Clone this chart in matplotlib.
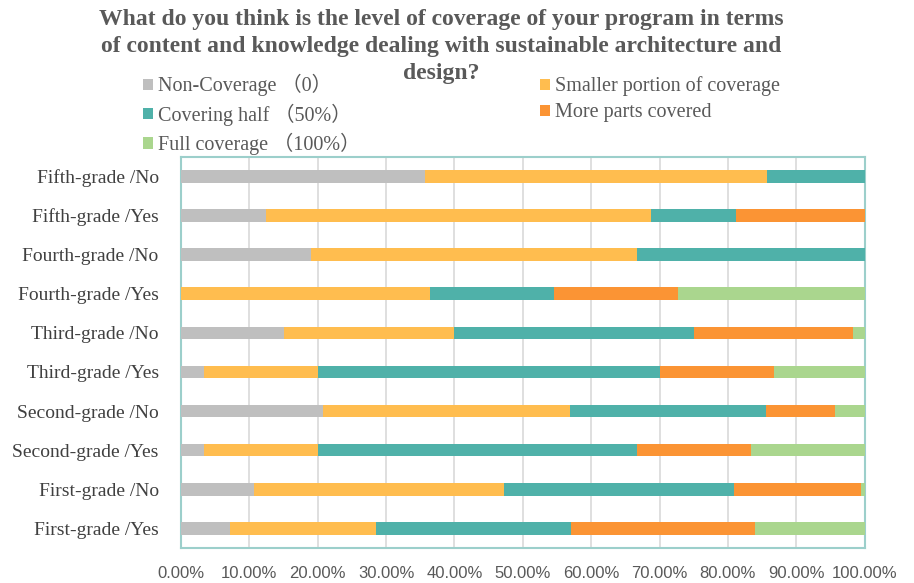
import matplotlib.pyplot as plt
import numpy as np
from matplotlib.ticker import FuncFormatter

# bottom to top
groups = ['First-grade /Yes', 'First-grade /No', 'Second-grade /Yes', 'Second-grade /No',
          'Third-grade /Yes', 'Third-grade /No', 'Fourth-grade /Yes', 'Fourth-grade /No',
          'Fifth-grade /Yes', 'Fifth-grade /No']

non_coverage = [7.1, 10.7, 3.33, 20.8, 3.33, 15.0, 0.0, 19.05, 12.5, 35.7]
smaller_portion = [21.4, 36.5, 16.67, 36.1, 16.67, 25.0, 36.36, 47.62, 56.25, 50.0]
covering_half = [28.6, 33.7, 46.67, 28.6, 50.0, 35.0, 18.18, 33.33, 12.5, 14.3]
more_parts = [26.8, 18.5, 16.67, 10.1, 16.67, 23.3, 18.18, 0.0, 18.75, 0.0]
full_coverage = [16.1, 0.6, 16.67, 4.4, 13.33, 1.7, 27.27, 0.0, 0.0, 0.0]

series = [
    ('Non-Coverage （0）', non_coverage, '#bfbfbf'),
    ('Smaller portion of coverage', smaller_portion, '#ffbd4f'),
    ('Covering half （50%）', covering_half, '#4fb1a9'),
    ('More parts covered', more_parts, '#fb9434'),
    ('Full coverage （100%）', full_coverage, '#aad68e'),
]

title_lines = ['What do you think is the level of coverage of your program in terms',
               'of content and knowledge dealing with sustainable architecture and',
               'design?']

serif = ['Liberation Serif', 'Noto Sans CJK SC', 'DejaVu Serif']

fig = plt.figure(figsize=(9.14, 5.83), dpi=100)
ax = fig.add_axes([0.198, 0.06, 0.748, 0.671])

y = np.arange(len(groups))
left = np.zeros(len(groups))
handles = {}
for name, vals, color in series:
    vals = np.array(vals) / 100.0
    b = ax.barh(y, vals, left=left, height=0.32, color=color, label=name, zorder=3)
    handles[name] = b
    left += vals

ax.set_xlim(0, 1)
ax.set_ylim(-0.5, len(groups) - 0.5)
ax.set_xticks(np.arange(0, 1.01, 0.1))
ax.xaxis.set_major_formatter(FuncFormatter(lambda v, p: f'{v * 100:.2f}%'))
ax.set_yticks(y)
ax.set_yticklabels(groups, fontfamily=serif, fontsize=14, color='#404040')
for lbl in ax.get_xticklabels():
    lbl.set_fontfamily('Liberation Sans')
    lbl.set_fontsize(12)
    lbl.set_color('#595959')
ax.tick_params(axis='y', length=0, pad=16)
ax.tick_params(axis='x', length=0, pad=13)
ax.grid(axis='x', color='#d9d9d9', linewidth=1.2, zorder=0)
for s in ax.spines.values():
    s.set_color('#9ccfcb')
    s.set_linewidth(1.5)

# title, one text per line (as in the original, the last line sits between the legend columns)
for line, ypos in zip(title_lines, [0.9657, 0.9194, 0.874]):
    fig.text(0.4825, ypos, line, ha='center', va='center',
             fontfamily='Liberation Serif', fontweight='bold',
             fontsize=17, color='#595959')

order = ['Non-Coverage （0）', 'Covering half （50%）', 'Full coverage （100%）',
         'Smaller portion of coverage', 'More parts covered']
leg = fig.legend([handles[n] for n in order], order, ncol=2, loc='upper left',
                 bbox_to_anchor=(0.1455, 0.89), frameon=False, borderpad=0,
                 prop={'family': serif, 'size': 14.5}, handlelength=0.5, handleheight=0.5,
                 handletextpad=0.25, columnspacing=8.9, labelspacing=0.35,
                 labelcolor='#595959')

fig.savefig('out.png', dpi=100, facecolor='white')
